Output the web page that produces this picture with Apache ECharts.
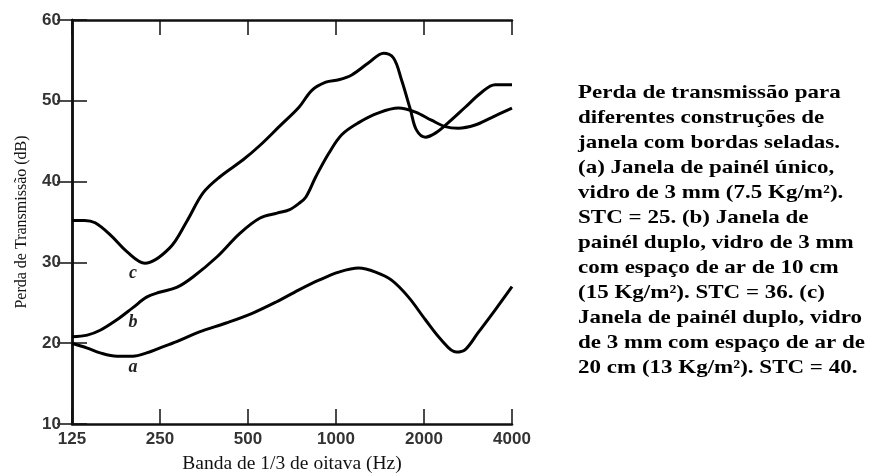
<!DOCTYPE html>
<html>
<head>
<meta charset="utf-8">
<script src="https://cdn.jsdelivr.net/npm/echarts@6/dist/echarts.min.js"></script>
<style>
html,body{margin:0;padding:0;background:#fff;}
#chart{width:870px;height:476px;}
</style>
</head>
<body>
<div id="chart"></div>
<script>
// Tick labels (octave bands, Hz)
var xTickLabels = ['125', '250', '500', '1000', '2000', '4000'];
var baseFreq = 125;

// Curve a: single pane, 3 mm glass
var freqA = [125,141,156,178,202,225,249,285,341,421,517,624,747,874,1022,1196,1366,1549,1770,2022,2293,2579,2767,3063,3500,4000];
var valA  = [20.0,19.4,18.8,18.4,18.4,18.8,19.4,20.2,21.4,22.5,23.7,25.1,26.6,27.8,28.8,29.3,28.8,27.8,25.7,22.9,20.4,18.9,19.2,21.3,24.1,27.0];

// Curve b: double pane, 10 cm air space
var freqB = [125,141,156,178,202,225,249,285,324,392,469,550,629,691,747,789,853,945,1046,1196,1398,1636,1870,2120,2366,2619,2992,3392,4000];
var valB  = [20.8,21.0,21.6,22.9,24.4,25.7,26.3,26.9,28.2,30.7,33.6,35.5,36.1,36.5,37.3,38.1,40.6,43.5,45.8,47.3,48.5,49.1,48.6,47.6,46.8,46.6,47.0,47.9,49.1];

// Curve c: double pane, 20 cm air space
var freqC = [125,138,150,169,193,222,270,309,351,401,481,550,639,747,827,923,1022,1132,1293,1455,1573,1675,1797,1884,2022,2187,2422,2767,3136,3500,4000];
var valC  = [35.2,35.2,34.9,33.4,31.3,29.9,31.8,35.1,38.6,40.6,42.7,44.5,46.8,49.2,51.3,52.3,52.6,53.2,54.7,55.9,55.3,52.6,48.9,46.4,45.5,46.0,47.3,49.2,51.0,52.0,52.0];

// Curve label anchors (freq, dB)
var labelNames = ['a', 'b', 'c'];
var labelFreq = [202, 202, 202];
var labelVal = [17.0, 22.6, 28.7];

var captionLines = [
  'Perda de transmissão para',
  'diferentes construções de',
  'janela com bordas seladas.',
  '(a) Janela de painél único,',
  'vidro de 3 mm (7.5 Kg/m²).',
  'STC = 25. (b) Janela de',
  'painél duplo, vidro de 3 mm',
  'com espaço de ar de 10 cm',
  '(15 Kg/m²). STC = 36. (c)',
  'Janela de painél duplo, vidro',
  'de 3 mm com espaço de ar de',
  '20 cm (13 Kg/m²). STC = 40.'
];

function oct(f) { return Math.log(f / baseFreq) / Math.LN2; }
function pairs(fs, vs) { return fs.map(function (f, i) { return [oct(f), vs[i]]; }); }

var chart = echarts.init(document.getElementById('chart'), null, {renderer: 'canvas'});
var axisCol = '#111';
var lineStyleCommon = {color: '#000', width: 3};

function curve(name, fs, vs, li) {
  return {
    name: name, type: 'line', data: pairs(fs, vs), smooth: 0.35,
    showSymbol: false, symbol: 'none', lineStyle: lineStyleCommon, z: 3,
    markPoint: {
      symbol: 'circle', symbolSize: 0,
      label: {show: true, formatter: labelNames[li], color: '#222',
        fontFamily: 'Liberation Serif', fontStyle: 'italic', fontWeight: 'bold', fontSize: 18},
      data: [{coord: [oct(labelFreq[li]), labelVal[li]]}]
    }
  };
}

var tickLabelStyle = {fontFamily: 'Liberation Sans', fontWeight: 'bold', fontSize: 17, color: '#333'};

var option = {
  animation: false,
  backgroundColor: '#fff',
  grid: {left: 72, right: 358, top: 20, bottom: 52, containLabel: false, outerBoundsMode: 'none'},
  xAxis: [{
    type: 'value', min: 0, max: 5, interval: 1, position: 'bottom',
    name: 'Banda de 1/3 de oitava (Hz)', nameLocation: 'middle', nameGap: 30,
    nameTextStyle: {fontFamily: 'Liberation Serif', fontSize: 19.5, color: '#111'},
    axisLine: {lineStyle: {color: axisCol, width: 2.5}},
    axisTick: {inside: true, length: 15, lineStyle: {color: axisCol, width: 1.5}},
    axisLabel: Object.assign({margin: 7, formatter: function (v) { return xTickLabels[Math.round(v)]; }}, tickLabelStyle),
    splitLine: {show: false}
  }, {
    type: 'value', min: 0, max: 5, interval: 1, position: 'top',
    axisLine: {lineStyle: {color: axisCol, width: 2.5}},
    axisTick: {inside: true, length: 15, lineStyle: {color: axisCol, width: 1.5}},
    axisLabel: {show: false}, splitLine: {show: false}
  }],
  yAxis: [{
    type: 'value', min: 10, max: 60, interval: 10, position: 'left',
    name: 'Perda de Transmissão (dB)', nameLocation: 'middle', nameGap: 42,
    nameTextStyle: {fontFamily: 'Liberation Serif', fontSize: 16, color: '#111'},
    axisLine: {show: true, lineStyle: {color: axisCol, width: 2.5}},
    axisTick: {show: true, inside: true, length: 15, lineStyle: {color: axisCol, width: 1.5}},
    axisLabel: Object.assign({margin: 11}, tickLabelStyle),
    splitLine: {show: false}
  }, {
    type: 'value', min: 10, max: 60, interval: 10, position: 'right',
    axisLine: {show: true, lineStyle: {color: axisCol, width: 2.5}},
    axisTick: {show: true, inside: true, length: 15, lineStyle: {color: axisCol, width: 1.5}},
    axisLabel: {show: false}, splitLine: {show: false}
  }],
  series: [
    curve('a', freqA, valA, 0),
    curve('b', freqB, valB, 1),
    curve('c', freqC, valC, 2)
  ],
  graphic: [{
    type: 'text', x: 578, y: 80, scaleX: 1.18, scaleY: 1,
    style: {text: captionLines.join('\n'), fontFamily: 'Liberation Serif', fontWeight: 'bold',
      fontSize: 19.5, lineHeight: 25, fill: '#000'}
  }]
};
chart.setOption(option);
</script>
</body>
</html>
